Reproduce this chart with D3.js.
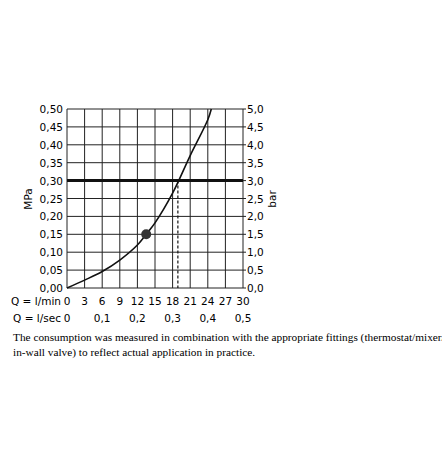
<!DOCTYPE html>
<html><head><meta charset="utf-8">
<script src="https://cdn.jsdelivr.net/npm/d3@7"></script>
<style>body{margin:0;background:#fff}</style>
</head><body><svg id="c" width="442" height="450"></svg>
<script>
const flowLmin = [0, 3, 6, 9, 12, 13.5, 15, 18, 21, 24, 24.6];
const pressure = [0, 0.022, 0.046, 0.078, 0.12, 0.15, 0.182, 0.265, 0.37, 0.47, 0.5];
const point = [13.5, 0.15];
const limit = 0.3;
const limitFlow = 18.9;
const minTicks = [0, 3, 6, 9, 12, 15, 18, 21, 24, 27, 30];
const secTicks = ["0", "0,1", "0,2", "0,3", "0,4", "0,5"];
const mpaTicks = d3.range(0, 0.501, 0.05);

const svg = d3.select("#c");
const x = d3.scaleLinear().domain([0, 30]).range([67, 243]);
const y = d3.scaleLinear().domain([0, 0.5]).range([288, 109]);
const font = "DejaVu Sans, sans-serif";
const fs = 10.5;
const fmt = v => v.toFixed(2).replace(".", ",");

// grid
svg.append("g").selectAll("line").data(minTicks).enter().append("line")
  .attr("x1", d => x(d)).attr("x2", d => x(d)).attr("y1", y(0)).attr("y2", y(0.5))
  .attr("stroke", "#222").attr("stroke-width", 1);
svg.append("g").selectAll("line").data(mpaTicks).enter().append("line")
  .attr("x1", x(0)).attr("x2", x(30) + 3).attr("y1", d => y(d)).attr("y2", d => y(d))
  .attr("stroke", "#222").attr("stroke-width", 1);

// limit line
svg.append("line").attr("x1", x(0)).attr("x2", x(30)).attr("y1", y(limit)).attr("y2", y(limit))
  .attr("stroke", "#111").attr("stroke-width", 3);
svg.append("line").attr("x1", x(limitFlow)).attr("x2", x(limitFlow)).attr("y1", y(limit)).attr("y2", y(0))
  .attr("stroke", "#111").attr("stroke-width", 1.2).attr("stroke-dasharray", "3,2");

// curve
svg.append("path").datum(flowLmin.map((f, i) => [f, pressure[i]]))
  .attr("d", d3.line().x(d => x(d[0])).y(d => y(d[1])).curve(d3.curveCatmullRom))
  .attr("fill", "none").attr("stroke", "#111").attr("stroke-width", 1.6);
svg.append("circle").attr("cx", x(point[0])).attr("cy", y(point[1])).attr("r", 5).attr("fill", "#333");

// tick labels
svg.append("g").selectAll("text").data(mpaTicks).enter().append("text")
  .attr("x", 63).attr("y", d => y(d) + 4).attr("text-anchor", "end")
  .attr("font-family", font).attr("font-size", fs).text(fmt);
svg.append("g").selectAll("text").data(mpaTicks).enter().append("text")
  .attr("x", 247).attr("y", d => y(d) + 4)
  .attr("font-family", font).attr("font-size", fs).text(d => (d * 10).toFixed(1).replace(".", ","));
svg.append("g").selectAll("text").data(minTicks).enter().append("text")
  .attr("x", d => x(d)).attr("y", 305).attr("text-anchor", "middle")
  .attr("font-family", font).attr("font-size", fs).text(d => d);
svg.append("g").selectAll("text").data(secTicks).enter().append("text")
  .attr("x", (d, i) => x(i * 6)).attr("y", 322).attr("text-anchor", "middle")
  .attr("font-family", font).attr("font-size", fs).text(d => d);
svg.append("text").attr("x", 61).attr("y", 305).attr("text-anchor", "end")
  .attr("font-family", font).attr("font-size", fs).text("Q = l/min");
svg.append("text").attr("x", 61).attr("y", 322).attr("text-anchor", "end")
  .attr("font-family", font).attr("font-size", fs).text("Q = l/sec");
svg.append("text").attr("transform", "translate(32,199) rotate(-90)").attr("text-anchor", "middle")
  .attr("font-family", font).attr("font-size", 10.5).text("MPa");
svg.append("text").attr("transform", "translate(276,199) rotate(-90)").attr("text-anchor", "middle")
  .attr("font-family", font).attr("font-size", 10.5).text("bar");

// note
const note = svg.append("text").attr("font-family", "Liberation Serif, Times New Roman, serif").attr("font-size", 11.3);
note.append("tspan").attr("x", 13).attr("y", 341)
  .text("The consumption was measured in combination with the appropriate fittings (thermostat/mixer/");
note.append("tspan").attr("x", 13).attr("y", 356)
  .text("in-wall valve) to reflect actual application in practice.");
</script></body></html>
